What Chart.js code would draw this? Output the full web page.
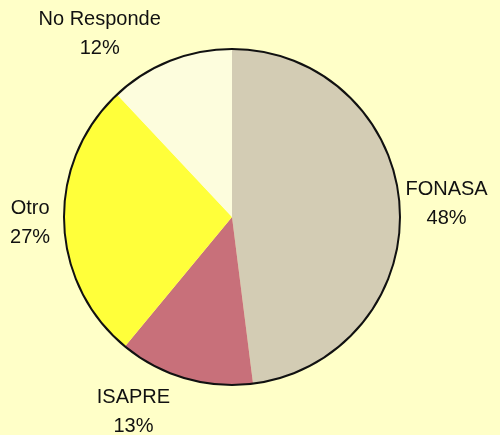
<!DOCTYPE html>
<html><head><meta charset="utf-8">
<script src="https://cdn.jsdelivr.net/npm/chart.js@4/dist/chart.umd.min.js"></script>
<style>html,body{margin:0;padding:0;background:#FFFFC8;}#wrap{width:500px;height:435px;}</style>
</head><body><div id="wrap"><canvas id="c" width="500" height="435"></canvas></div>
<script>
const categories = ["FONASA", "ISAPRE", "Otro", "No Responde"];
const percentValues = [48, 13, 27, 12];
const sliceColors = ["#D3CCB4", "#C8707A", "#FFFF3A", "#FDFDDD"];
// label placement tweaks (pixels) relative to the arc's mid-angle anchor
const labelDx = [5, -40, 8, -55];
const labelDy = [0, -7, -1, 12];

const outlinePlugin = {
  id: 'outline',
  afterDatasetsDraw(chart) {
    const arc = chart.getDatasetMeta(0).data[0];
    const ctx = chart.ctx;
    ctx.save();
    ctx.beginPath();
    ctx.arc(arc.x, arc.y, arc.outerRadius, 0, Math.PI * 2);
    ctx.lineWidth = 2;
    ctx.strokeStyle = '#111';
    ctx.stroke();
    ctx.restore();
  }
};
const labelPlugin = {
  id: 'outLabels',
  afterDraw(chart) {
    const ctx = chart.ctx;
    const meta = chart.getDatasetMeta(0);
    ctx.save();
    ctx.font = '20px "Liberation Sans", Arial, sans-serif';
    ctx.fillStyle = '#111';
    ctx.textAlign = 'center';
    ctx.textBaseline = 'middle';
    meta.data.forEach((arc, i) => {
      const mid = (arc.startAngle + arc.endAngle) / 2;
      const R = arc.outerRadius * 1.25;
      const x = arc.x + Math.cos(mid) * R + labelDx[i];
      const y = arc.y + Math.sin(mid) * R + labelDy[i];
      ctx.fillText(categories[i], x, y - 14);
      ctx.fillText(percentValues[i] + '%', x, y + 15);
    });
    ctx.restore();
  }
};

new Chart(document.getElementById('c'), {
  type: 'pie',
  data: {
    labels: categories,
    datasets: [{
      data: percentValues,
      backgroundColor: sliceColors,
      borderWidth: 0,
      hoverOffset: 0
    }]
  },
  options: {
    responsive: false,
    animation: false,
    layout: { padding: { left: 64, right: 100, top: 49, bottom: 50 } },
    plugins: { legend: { display: false }, tooltip: { enabled: false } }
  },
  plugins: [outlinePlugin, labelPlugin]
});
</script></body></html>
